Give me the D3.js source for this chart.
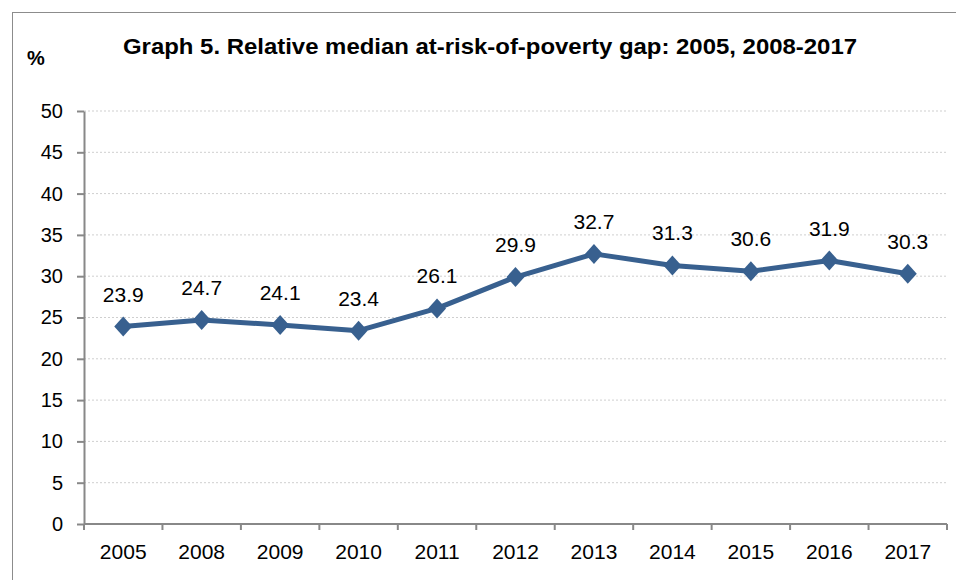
<!DOCTYPE html>
<html lang="en">
<head>
<meta charset="UTF-8">
<title>Graph 5</title>
<script src="https://d3js.org/d3.v7.min.js"></script>
<style>
body { margin: 0; background: #fff; }
svg { display: block; font-family: "Liberation Sans", Arial, sans-serif; }
.grid line { stroke: #cfcfcf; stroke-dasharray: 2,2; }
.axis path, .axis line { stroke: #888; stroke-width: 2; }
.axis text { fill: #000; }
</style>
</head>
<body>
<svg width="956" height="580"></svg>
<script>
const years = ["2005", "2008", "2009", "2010", "2011", "2012", "2013", "2014", "2015", "2016", "2017"];
const gapValues = [23.9, 24.7, 24.1, 23.4, 26.1, 29.9, 32.7, 31.3, 30.6, 31.9, 30.3];
const yTicks = [0, 5, 10, 15, 20, 25, 30, 35, 40, 45, 50];

const svg = d3.select("svg");
const margin = {top: 111, right: 9, bottom: 56, left: 84};
const width = 956 - margin.left - margin.right;
const height = 580 - margin.top - margin.bottom;

// outer frame
svg.append("rect")
    .attr("x", 12.5).attr("y", 12.5)
    .attr("width", 960).attr("height", 600)
    .attr("fill", "none")
    .attr("stroke", "#8c8c8c")
    .attr("stroke-width", 1);

svg.append("text")
    .attr("x", 123).attr("y", 54)
    .attr("textLength", 734)
    .attr("lengthAdjust", "spacingAndGlyphs")
    .style("font-size", "22px")
    .style("font-weight", "bold")
    .text("Graph 5. Relative median at-risk-of-poverty gap: 2005, 2008-2017");

svg.append("text")
    .attr("x", 27).attr("y", 65)
    .style("font-size", "20px")
    .style("font-weight", "bold")
    .text("%");

const g = svg.append("g").attr("transform", `translate(${margin.left},${margin.top})`);

const x = d3.scaleBand().domain(years).range([0, width]);
const y = d3.scaleLinear().domain([0, 50]).range([height, 0]);

// gridlines
g.append("g").attr("class", "grid")
    .selectAll("line")
    .data(yTicks.filter(d => d > 0))
    .enter().append("line")
    .attr("x1", 0).attr("x2", width)
    .attr("y1", d => y(d)).attr("y2", d => y(d));

// y axis
const yAxis = g.append("g").attr("class", "axis")
    .call(d3.axisLeft(y).tickValues(yTicks).tickSize(7).tickSizeOuter(0).tickPadding(14));
yAxis.selectAll("text").style("font-size", "20px");

// x axis with ticks between categories
const xAxis = g.append("g").attr("class", "axis")
    .attr("transform", `translate(0,${height})`)
    .call(d3.axisBottom(x).tickSize(0).tickPadding(20));
xAxis.selectAll("text").style("font-size", "21px");
xAxis.select(".domain").remove();
xAxis.append("line").attr("x1", 0).attr("x2", width).attr("y1", 0).attr("y2", 0);
xAxis.selectAll(".sep")
    .data(years.map(d => x(d)).concat([width]))
    .enter().append("line")
    .attr("class", "sep")
    .attr("x1", d => d).attr("x2", d => d)
    .attr("y1", 0).attr("y2", 6);

const cx = d => x(d) + x.bandwidth() / 2;
const pts = years.map((yr, i) => ({yr: yr, v: gapValues[i]}));

g.append("path")
    .datum(pts)
    .attr("fill", "none")
    .attr("stroke", "#38608f")
    .attr("stroke-width", 5)
    .attr("stroke-linejoin", "round")
    .attr("d", d3.line().x(d => cx(d.yr)).y(d => y(d.v)));

g.selectAll(".marker")
    .data(pts)
    .enter().append("path")
    .attr("class", "marker")
    .attr("transform", d => `translate(${cx(d.yr)},${y(d.v)})`)
    .attr("d", "M0,-10L9,0L0,10L-9,0Z")
    .attr("fill", "#38608f");

g.selectAll(".lbl")
    .data(pts)
    .enter().append("text")
    .attr("class", "lbl")
    .attr("x", d => cx(d.yr))
    .attr("y", d => y(d.v) - 25)
    .attr("text-anchor", "middle")
    .style("font-size", "21px")
    .text(d => d.v.toFixed(1));
</script>
</body>
</html>
